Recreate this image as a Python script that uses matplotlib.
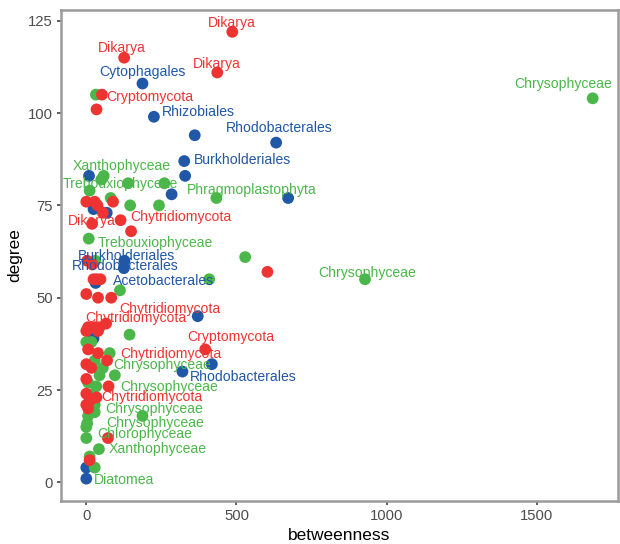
import matplotlib
matplotlib.use("Agg")
import matplotlib.pyplot as plt

plt.rcParams['font.family'] = ['Liberation Sans', 'DejaVu Sans']

# ---- node data: betweenness, degree, taxon label ("" = unlabeled) ----
bact_betw = [187, 225, 632, 326, 127, 125, 31, 320,
             361, 329, 284, 672, 9, 68, 24, 371, 418, 24, 0, 0]
bact_deg = [108, 99, 92, 87, 60, 58, 54, 30,
            94, 83, 78, 77, 83, 73, 74, 45, 32, 39, 4, 1]
bact_lab = ["Cytophagales", "Rhizobiales", "Rhodobacterales", "Burkholderiales",
            "Burkholderiales", "Rhodobacterales", "Acetobacterales", "Rhodobacterales",
            "", "", "", "", "", "", "", "", "", "", "", ""]

alg_betw = [1686, 58, 11, 433, 8, 928, 78, 95, 28, 187, 0, 42, 28,
            32, 50, 139, 260, 81, 146, 242, 30, 529, 409, 112, 144,
            0, 17, 28, 55, 44, 6, 33, 22, 28, 6, 0, 3, 11, 11]
alg_deg = [104, 83, 79, 77, 66, 55, 35, 29, 21, 18, 12, 9, 4,
           105, 82, 81, 81, 77, 75, 75, 60, 61, 55, 52, 40,
           38, 38, 33, 31, 29, 27, 26, 24, 19, 18, 15, 16, 7, 19]
alg_lab = ["Chrysophyceae", "Xanthophyceae", "Trebouxiophyceae", "Phragmoplastophyta",
           "Trebouxiophyceae", "Chrysophyceae", "Chrysophyceae", "Chrysophyceae",
           "Chrysophyceae", "Chrysophyceae", "Chlorophyceae", "Xanthophyceae", "Diatomea"] \
    + [""] * 26

fung_betw = [486, 126, 436, 52, 19, 114, 83, 66, 396, 69, 34,
             34, 603, 149, 0, 28, 37, 89, 55, 3, 20, 35, 47, 24, 0, 39,
             0, 28, 44, 6, 39, 6, 39, 0, 17, 0, 74, 0, 11, 0, 6, 72, 11]
fung_deg = [122, 115, 111, 105, 70, 71, 50, 43, 36, 33, 23,
            101, 57, 68, 76, 76, 75, 76, 73, 60, 59, 55, 55, 55, 51, 50,
            41, 42, 42, 42, 41, 36, 35, 32, 31, 28, 26, 24, 22, 21, 20, 12, 6]
fung_lab = ["Dikarya", "Dikarya", "Dikarya", "Cryptomycota", "Dikarya",
            "Chytridiomycota", "Chytridiomycota", "Chytridiomycota", "Cryptomycota",
            "Chytridiomycota", "Chytridiomycota"] + [""] * 32

# label displacement (pixels) for the labeled nodes, in order
bact_off = [(0, 12), (44, 5), (3, 15), (58, 1), (2, 5), (1, 2), (68, 2), (61, -5)]
alg_off = [(-30, 14), (18, 10), (31, 7), (35, 8), (67, -4), (2, 6), (52, -12),
           (54, -12), (59, -4), (13, -7), (58, 4), (59, 0), (29, -12)]
fung_off = [(0, 9), (-2, 10), (0, 8), (48, -2), (0, 3), (60, 3), (59, -11),
            (30, 6), (26, 12), (64, 6), (55, 0)]

RED = "#EE3432"
GREEN = "#4BB74A"
BLUE = "#2057A7"

fig = plt.figure(figsize=(6.2, 5.44), dpi=100)
ax = fig.add_axes([61 / 620, 43 / 544, 557 / 620, 491.5 / 544])

groups = [
    (bact_betw, bact_deg, bact_lab, bact_off, BLUE),
    (alg_betw, alg_deg, alg_lab, alg_off, GREEN),
    (fung_betw, fung_deg, fung_lab, fung_off, RED),
]

for bx, dy, labs, offs, col in groups:
    ax.scatter(bx, dy, s=72, color=col, edgecolors='none', zorder=3)

for bx, dy, labs, offs, col in groups:
    k = 0
    for x, y, t in zip(bx, dy, labs):
        if t:
            ax.annotate(t, (x, y), xytext=offs[k], textcoords='offset pixels',
                        ha='center', va='center', color=col, fontsize=10.1,
                        zorder=4)
            k += 1

ax.set_xlim(-84.3, 1770.3)
ax.set_ylim(-5.05, 128.05)
ax.set_xticks([0, 500, 1000, 1500])
ax.set_yticks([0, 25, 50, 75, 100, 125])

for sp in ax.spines.values():
    sp.set_color('#9A9A9A')
    sp.set_linewidth(1.8)

ax.tick_params(axis='both', direction='out', length=3, width=1.1,
               color='#333333', labelcolor='#4D4D4D', labelsize=10.7, pad=3)

ax.set_xlabel('betweenness', fontsize=12.5, color='black', labelpad=3)
ax.set_ylabel('degree', fontsize=12.5, color='black', labelpad=4)

fig.savefig('out.png', dpi=100)
